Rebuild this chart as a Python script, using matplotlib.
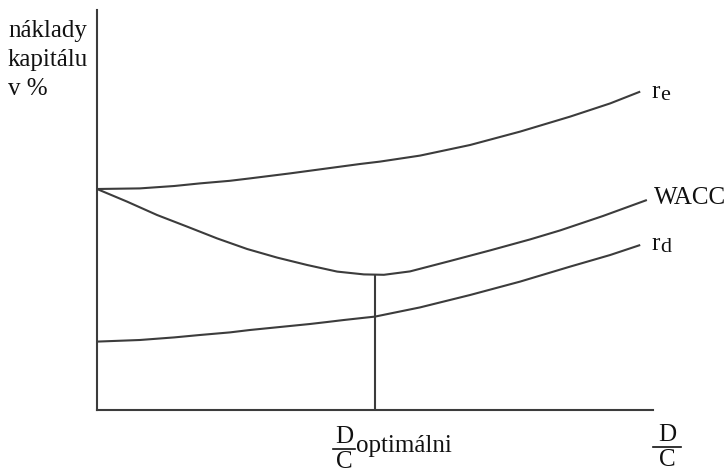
import numpy as np
import matplotlib
matplotlib.use("Agg")
import matplotlib.pyplot as plt
from matplotlib.lines import Line2D

# ---- data (x = D/C in arbitrary units, y = cost of capital in arbitrary units)
re_x = [0.0, 0.77, 1.39, 1.85, 2.39, 2.75, 3.47, 4.14, 4.73, 5.09, 5.81, 6.71, 7.61, 8.51, 9.23, 9.77]
re_y = [11.05, 11.08, 11.2, 11.33, 11.46, 11.58, 11.83, 12.08, 12.3, 12.42, 12.72, 13.25, 13.92, 14.67, 15.33, 15.92]

wacc_x = [0.0, 0.54, 1.08, 1.62, 2.16, 2.70, 3.24, 3.78, 4.32, 4.80, 5.16, 5.63, 6.35, 7.07, 7.79, 8.33, 9.10, 9.89]
wacc_y = [11.05, 10.42, 9.75, 9.17, 8.58, 8.05, 7.62, 7.25, 6.92, 6.78, 6.76, 6.93, 7.45, 7.98, 8.53, 8.98, 9.7, 10.5]

rd_x = [0.0, 0.77, 1.39, 1.85, 2.39, 2.75, 3.47, 3.83, 4.14, 4.44, 4.8, 5.0, 5.81, 6.71, 7.61, 8.51, 9.23, 9.77]
rd_y = [3.42, 3.5, 3.63, 3.75, 3.88, 4.0, 4.2, 4.3, 4.4, 4.5, 4.61, 4.67, 5.13, 5.75, 6.42, 7.17, 7.75, 8.25]

d_c_opt = 5.0
wacc_min = 6.76

ylabel_lines = ["náklady", "kapitálu", "v %"]
label_re = ("r", "e")
label_wacc = "WACC"
label_rd = ("r", "d")
xlabel_opt = "optimálni"

W, H = 728, 475
fig = plt.figure(figsize=(W / 100, H / 100), dpi=100)
fig.patch.set_facecolor("white")

def fx(x):
    return x / W

def fy(y):
    return 1 - y / H

ax = fig.add_axes([fx(97), fy(410), (653 - 97) / W, (410 - 10) / H])
ax.set_xlim(0, 10)
ax.set_ylim(0, 20)

lc = "#3c3c3c"
lw = 1.5
for s in ["top", "right"]:
    ax.spines[s].set_visible(False)
for s in ["left", "bottom"]:
    ax.spines[s].set_color(lc)
    ax.spines[s].set_linewidth(lw)
ax.set_xticks([])
ax.set_yticks([])

ax.plot(re_x, re_y, color=lc, lw=lw, solid_capstyle="butt")
ax.plot(wacc_x, wacc_y, color=lc, lw=lw, solid_capstyle="butt")
ax.plot(rd_x, rd_y, color=lc, lw=lw, solid_capstyle="butt")
ax.plot([d_c_opt, d_c_opt], [0, wacc_min], color=lc, lw=lw, solid_capstyle="butt")

font = "Liberation Serif"
fs = 18
tc = "#111111"

# y-axis label
fig.text(fx(8), fy(20), "\n".join(ylabel_lines), ha="left", va="top",
         fontsize=fs, family=font, color=tc, linespacing=1.4)

# curve labels
fig.text(fx(651), fy(98), label_re[0], ha="left", va="baseline", fontsize=fs, family=font, color=tc)
fig.text(fx(660), fy(100), label_re[1], ha="left", va="baseline", fontsize=fs - 2, family=font, color=tc)
fig.text(fx(654), fy(204), label_wacc, ha="left", va="baseline", fontsize=fs, family=font, color=tc)
fig.text(fx(651), fy(250), label_rd[0], ha="left", va="baseline", fontsize=fs, family=font, color=tc)
fig.text(fx(660), fy(252), label_rd[1], ha="left", va="baseline", fontsize=fs - 2, family=font, color=tc)

# fractions on x axis
def fraction(cx, yline, halfw):
    fig.text(fx(cx), fy(yline - 6), "D", ha="center", va="baseline", fontsize=fs, family=font, color=tc)
    fig.text(fx(cx), fy(yline + 19), "C", ha="center", va="baseline", fontsize=fs, family=font, color=tc)
    fig.add_artist(Line2D([fx(cx - halfw), fx(cx + halfw)], [fy(yline), fy(yline)],
                          transform=fig.transFigure, color=tc, lw=1.2))

fraction(344, 449, 11)
fig.text(fx(356), fy(452), xlabel_opt, ha="left", va="baseline", fontsize=fs, family=font, color=tc)
fraction(667, 447, 14)

fig.savefig("out.png", dpi=100, facecolor="white")
